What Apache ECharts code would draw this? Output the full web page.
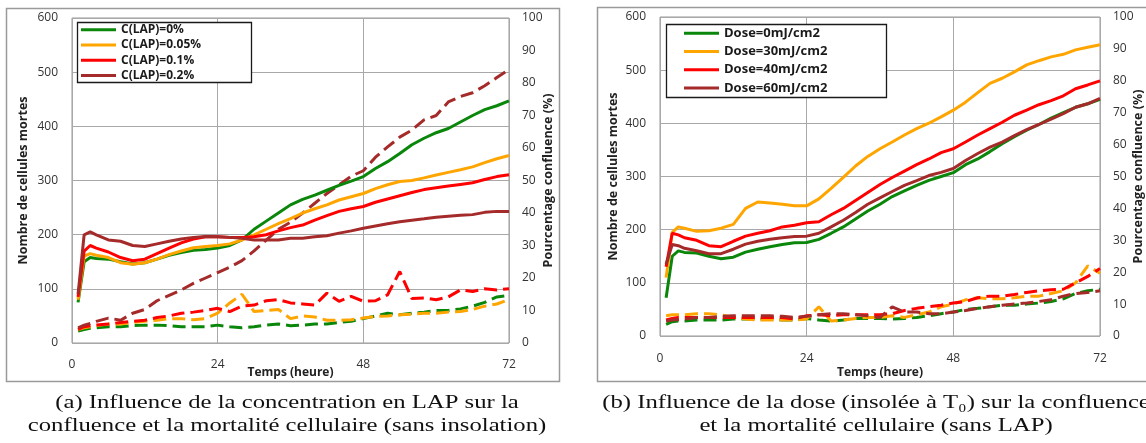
<!DOCTYPE html>
<html>
<head>
<meta charset="utf-8">
<script src="https://cdn.jsdelivr.net/npm/echarts@6/dist/echarts.min.js"></script>
<style>
  html, body { margin: 0; padding: 0; background: #fff; }
  #chart { width: 1146px; height: 443px; }
</style>
</head>
<body>
<div id="chart"></div>
<script>
// Sampling times (hours)
const hours = [1,2,3,4,6,8,10,12,14,16,18,20,22,24,26,28,30,32,34,36,38,40,42,44,46,48,50,52,54,56,58,60,62,64,66,68,70,72];
const timeTicks = [0, 24, 48, 72];

// (a) LAP concentration: confluence (%) — solid lines
const lapNames = ['C(LAP)=0%', 'C(LAP)=0.05%', 'C(LAP)=0.1%', 'C(LAP)=0.2%'];
const lapConf0   = [12.5,25,26.3,26,25.8,25,24.3,24.7,25.8,27,27.8,28.5,28.8,29.2,30,31.7,35,37.5,40,42.5,44.2,45.5,47,48.5,49.8,51.2,53.7,55.8,58.3,61,63,64.7,66,68,70,71.8,73,74.5];
const lapConf005 = [13.3,26.7,27.5,27,26.3,24.7,24.2,24.7,25.8,27.2,28.3,29.3,29.7,30,30.5,31.7,33.3,35,36.7,38.3,40,41.3,42.5,44,45,46,47.5,48.7,49.7,50,50.8,51.7,52.5,53.3,54.2,55.5,56.7,57.7];
const lapConf01  = [14.2,28.3,30,29.2,28,26.3,25.3,25.8,27.5,29.2,30.8,32,32.7,32.7,32.5,32.5,32.7,33.3,34.5,35.5,36.3,37.8,39.2,40.5,41.3,42,43.3,44.3,45.3,46.3,47.2,47.8,48.3,48.8,49.3,50.3,51.2,51.8];
const lapConf02  = [15,33.3,34.2,33.3,31.7,31.3,30,29.7,30.5,31.3,32,32.5,32.8,32.7,32.5,32.2,31.7,31.7,31.7,32.2,32.2,32.7,33,33.8,34.5,35.3,36,36.7,37.3,37.8,38.2,38.7,39,39.3,39.5,40.2,40.5,40.5];

// (a) LAP concentration: dead cells — dashed lines
const lapDead0   = [22,25,27,28,30,30,32,33,33,32,30,30,30,33,30,28,30,33,35,32,33,35,35,38,40,45,50,55,52,55,57,60,60,63,68,75,85,88];
const lapDead005 = [25,28,30,32,35,35,38,40,42,45,45,43,45,55,74,90,58,60,62,45,50,48,42,42,43,46,49,50,52,53,55,55,57,58,62,68,72,80];
const lapDead01  = [25,30,32,33,35,38,40,42,47,50,55,57,60,64,58,68,70,78,80,74,72,70,92,77,86,77,78,89,132,82,83,80,85,98,95,100,98,100];
const lapDead02  = [28,33,36,40,46,42,55,62,78,88,98,110,120,130,140,152,170,190,210,223,240,258,276,292,308,318,343,362,380,393,412,420,445,455,462,475,490,505];

// (b) UV dose: confluence (%) — solid lines
const doseNames = ['Dose=0mJ/cm2', 'Dose=30mJ/cm2', 'Dose=40mJ/cm2', 'Dose=60mJ/cm2'];
const doseConf0  = [12,25,26.7,26.2,26,25,24.2,24.7,26.3,27.2,28,28.7,29.2,29.3,30.3,32.2,34.2,36.7,39.2,41.3,43.7,45.5,47.2,48.8,50,51.2,53.7,55.5,57.8,60.3,62.5,64.5,66.3,68.3,70,71.7,72.8,74.2];
const doseConf30 = [18.3,32.5,34.2,33.8,32.8,33,33.8,35,40,42,41.7,41.3,40.8,40.8,43,46.3,49.7,53.3,56.3,58.7,60.8,63,65,66.7,68.7,70.8,73.3,76.3,79.2,80.8,82.8,85,86.3,87.5,88.3,89.7,90.5,91.3];
const doseConf40 = [21.7,32.2,31.7,30.8,30,28.3,28,29.7,31.3,32.2,33,34.2,34.7,35.5,35.8,38,40,42.5,45,47.5,49.7,51.7,53.7,55.5,57.5,58.7,60.8,63,65,67,69.2,70.8,72.5,73.8,75.3,77.5,78.7,80];
const doseConf60 = [22.5,28.7,28.3,27.5,26.7,25.8,25.8,27.2,28.8,29.7,30.3,30.8,31.2,31.3,32.2,34.2,36.3,38.7,41.3,43.3,45.3,47.2,48.7,50.3,51.3,52.5,55,57.2,59.2,60.8,62.8,64.7,66.3,68,69.7,71.7,72.8,74.5];

// (b) UV dose: dead cells — dashed lines
const doseDead0  = [22,27,28,28,30,30,30,32,32,32,32,30,30,33,30,28,30,33,33,33,32,33,35,38,42,45,50,52,55,58,58,60,62,65,70,80,85,88];
const doseDead30 = [38,40,40,40,42,42,40,35,32,30,30,30,30,32,55,28,30,33,35,35,38,35,40,45,55,60,68,72,70,70,72,75,75,80,85,100,132,118];
const doseDead40 = [30,33,35,35,35,35,35,35,35,35,35,35,32,38,40,38,40,40,40,40,42,48,52,55,58,62,65,72,75,75,78,82,85,87,88,100,112,127];
const doseDead60 = [28,30,31,32,35,35,37,38,38,38,38,37,35,37,40,42,42,40,38,35,55,45,45,42,42,45,48,52,55,58,60,62,65,68,75,80,82,85];

// Axis ranges
const deadMax = 600, deadStep = 100;
const confMax = 100, confStep = 10;

const colors = ['#0a870a', '#ffa500', '#ff0000', '#a52a2a'];
const FONT = "'Open Sans', sans-serif";
const SERIF = "'Liberation Serif', serif";

function pairs(vals) { return hours.map((t, i) => [t, vals[i]]); }

function solidSeries(name, vals, color, panel) {
  return {
    name, type: 'line', xAxisIndex: panel, yAxisIndex: panel * 2 + 1,
    data: pairs(vals), symbol: 'none', showSymbol: false, z: 4,
    lineStyle: { width: 3, color }, itemStyle: { color }
  };
}
function dashedSeries(name, vals, color, panel) {
  return {
    name, type: 'line', xAxisIndex: panel, yAxisIndex: panel * 2,
    data: pairs(vals), symbol: 'none', showSymbol: false, z: 3,
    lineStyle: { width: 3, color, type: [13, 6] }, itemStyle: { color }
  };
}

function xAxisFor(panel, labelMargin, nameGap) {
  return {
    gridIndex: panel, type: 'value', min: timeTicks[0], max: timeTicks[timeTicks.length - 1],
    interval: timeTicks[1] - timeTicks[0],
    axisLine: { show: false }, axisTick: { show: false },
    splitLine: { show: true, lineStyle: { color: '#a8a8a8', width: 1 } },
    axisLabel: { margin: labelMargin, fontSize: 12, color: '#333', fontFamily: FONT },
    name: 'Temps (heure)', nameLocation: 'middle', nameGap, nameMoveOverlap: false,
    nameTextStyle: { fontSize: 12, fontWeight: 'bold', color: '#222', fontFamily: FONT }
  };
}
function deadAxis(panel, nameGap) {
  return {
    gridIndex: panel, type: 'value', position: 'left', min: 0, max: deadMax, interval: deadStep,
    axisLine: { show: false }, axisTick: { show: false },
    splitLine: { show: true, lineStyle: { color: '#a8a8a8', width: 1 } },
    axisLabel: { margin: 14, fontSize: 12, color: '#333', fontFamily: FONT },
    name: 'Nombre de cellules mortes', nameLocation: 'middle', nameRotate: 90, nameGap, nameMoveOverlap: false,
    nameTextStyle: { fontSize: 12.5, fontWeight: 'bold', color: '#222', fontFamily: FONT }
  };
}
function confAxis(panel, nameGap) {
  return {
    gridIndex: panel, type: 'value', position: 'right', min: 0, max: confMax, interval: confStep,
    axisLine: { show: false }, axisTick: { show: false }, splitLine: { show: false },
    axisLabel: { margin: 13, fontSize: 12, color: '#333', fontFamily: FONT },
    name: 'Pourcentage confluence (%)', nameLocation: 'middle', nameRotate: 90, nameGap, nameMoveOverlap: false,
    nameTextStyle: { fontSize: 12.5, fontWeight: 'bold', color: '#222', fontFamily: FONT }
  };
}

function legendFor(names, left, top, fontSize, lineHeight) {
  return {
    data: names, orient: 'vertical', left, top, padding: 0, itemGap: 0, z: 120,
    itemWidth: 35, itemHeight: 3, icon: 'rect', selectedMode: false,
    textStyle: { fontFamily: FONT, fontWeight: 'bold', fontSize, color: '#1a1a1a', lineHeight }
  };
}
function frame(x, y, w, h, stroke, lw, fill, z) {
  return { type: 'rect', silent: true, z, shape: { x, y, width: w, height: h },
    style: { fill, stroke, lineWidth: lw } };
}

const series = [
  dashedSeries('mortes 0%', lapDead0, colors[0], 0),
  dashedSeries('mortes 0.05%', lapDead005, colors[1], 0),
  dashedSeries('mortes 0.1%', lapDead01, colors[2], 0),
  dashedSeries('mortes 0.2%', lapDead02, colors[3], 0),
  solidSeries(lapNames[0], lapConf0, colors[0], 0),
  solidSeries(lapNames[1], lapConf005, colors[1], 0),
  solidSeries(lapNames[2], lapConf01, colors[2], 0),
  solidSeries(lapNames[3], lapConf02, colors[3], 0),
  dashedSeries('mortes 0mJ', doseDead0, colors[0], 1),
  dashedSeries('mortes 30mJ', doseDead30, colors[1], 1),
  dashedSeries('mortes 40mJ', doseDead40, colors[2], 1),
  dashedSeries('mortes 60mJ', doseDead60, colors[3], 1),
  solidSeries(doseNames[0], doseConf0, colors[0], 1),
  solidSeries(doseNames[1], doseConf30, colors[1], 1),
  solidSeries(doseNames[2], doseConf40, colors[2], 1),
  solidSeries(doseNames[3], doseConf60, colors[3], 1)
];

function caption(text, x, y) {
  return {
    type: 'text', x, y, scaleX: 1.3, silent: true,
    style: { text, fontFamily: SERIF, fontSize: 19, fill: '#111', align: 'center', verticalAlign: 'middle' }
  };
}

const chart = echarts.init(document.getElementById('chart'), null, { renderer: 'canvas' });
chart.setOption({
  animation: false,
  backgroundColor: '#fff',
  grid: [
    { left: 72, top: 18, width: 437, height: 325, show: true, borderColor: '#999', borderWidth: 1, backgroundColor: 'transparent' },
    { left: 660, top: 17, width: 440, height: 319, show: true, borderColor: '#999', borderWidth: 1, backgroundColor: 'transparent' }
  ],
  xAxis: [xAxisFor(0, 16, 24), xAxisFor(1, 17, 31)],
  yAxis: [deadAxis(0, 42), confAxis(0, 33), deadAxis(1, 40), confAxis(1, 32)],
  legend: [
    legendFor(lapNames, 81, 22, 12, 15.3),
    legendFor(doseNames, 684, 24, 13, 18.3)
  ],
  graphic: [
    // panel frames
    frame(6.5, 8.5, 553, 373, '#9a9a9a', 1.5, 'none', 1),
    frame(597.5, 7.5, 560, 374, '#9a9a9a', 1.5, 'none', 1),
    // legend boxes (drawn under the legend items)
    frame(77.5, 22.5, 174, 60, '#1a1a1a', 1.3, '#fff', 10),
    frame(666.5, 24.5, 220, 73, '#1a1a1a', 1.3, '#fff', 10),
    caption('(a) Influence de la concentration en LAP sur la', 287, 403),
    caption('confluence et la mortalité cellulaire (sans insolation)', 287, 426),
    caption('(b) Influence de la dose (insolée à T\u2080) sur la confluence', 876, 403),
    caption('et la mortalité cellulaire (sans LAP)', 876, 426)
  ],
  series
});
</script>
</body>
</html>
